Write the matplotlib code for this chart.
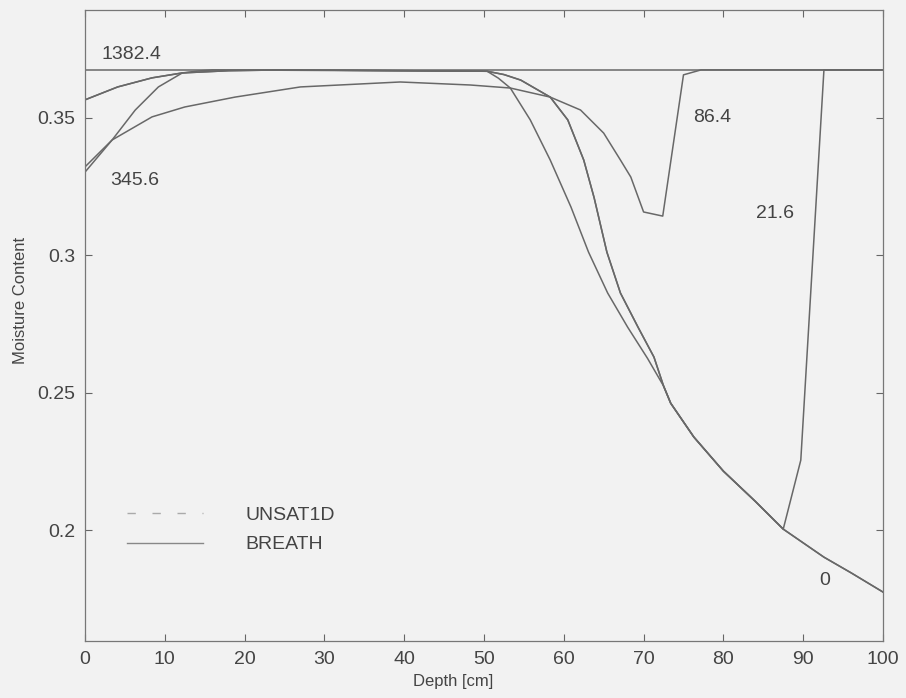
import matplotlib
matplotlib.use("Agg")
import matplotlib.pyplot as plt
from matplotlib.lines import Line2D

# moisture profiles (depth in cm, moisture content)
depth_sat = [0, 100]
theta_sat = [0.3675, 0.3675]

# shared lower tail where all draining curves meet
depth_tail = [73.4, 76.3, 80.0, 84.0, 87.5, 92.6, 96.0, 100.0]
theta_tail = [0.2462, 0.2339, 0.2215, 0.2105, 0.2004, 0.1902, 0.1845, 0.1775]

# t = 0
depth_0 = [0, 4.1, 8.4, 12.2, 18, 25, 50.4, 52.5, 54.6, 58.3, 60.5, 62.5, 63.8,
           65.4, 67.1, 69.3, 71.3, 72.5]
theta_0 = [0.3566, 0.3613, 0.3646, 0.3664, 0.3672, 0.3675, 0.3670, 0.3658, 0.3638,
           0.3576, 0.3493, 0.3347, 0.3210, 0.3012, 0.2863, 0.2739, 0.2630, 0.2525]

# t = 345.6
depth_345 = [0, 3.4, 6.3, 9.2, 12.2, 14.2, 16, 50.4, 51.8, 53.3, 55.8, 58.3, 60.9,
             63.1, 65.5, 68.0, 70.5, 72.5]
theta_345 = [0.3303, 0.3420, 0.3529, 0.3613, 0.3664, 0.3671, 0.3675, 0.3670,
             0.3645, 0.3609, 0.3493, 0.3347, 0.3176, 0.3012, 0.2863, 0.2739,
             0.2625, 0.2525]

# t = 86.4
depth_86 = [0, 3.4, 8.4, 12.5, 18.8, 27, 39.5, 48.3, 53.3, 58.3, 62.1, 65.0,
            67.1, 68.4, 70.0, 72.4, 75.0, 77.2, 100]
theta_86 = [0.3322, 0.3420, 0.3504, 0.3540, 0.3576, 0.3613, 0.3631, 0.3620,
            0.3609, 0.3576, 0.3529, 0.3445, 0.3347, 0.3285, 0.3158, 0.3143,
            0.3657, 0.3675, 0.3675]

# t = 21.6 wetting front (follows t = 0 above it)
depth_front = [87.5, 89.7, 92.6, 100]
theta_front = [0.2004, 0.2255, 0.3675, 0.3675]

labels = ["1382.4", "345.6", "86.4", "21.6", "0"]
label_xy = [(2.1, 0.3730), (3.1, 0.3271), (76.2, 0.3500), (84.1, 0.3154), (92.0, 0.1818)]

xticks = list(range(0, 101, 10))
yticks = [0.2, 0.25, 0.3, 0.35]
ytick_labels = ["0.2", "0.25", "0.3", "0.35"]

bg = "#f2f2f2"
ink = "#444444"
line_c = "#686868"

plt.rcParams["font.family"] = ["Liberation Sans", "DejaVu Sans"]

fig = plt.figure(figsize=(9.06, 6.98), dpi=100, facecolor=bg)
ax = fig.add_axes([0.0938, 0.0817, 0.8808, 0.904])
ax.set_facecolor(bg)

full_0_d = depth_0 + depth_tail
full_0_t = theta_0 + theta_tail
full_345_d = depth_345 + depth_tail
full_345_t = theta_345 + theta_tail
d21 = [d for d in full_0_d if d < depth_front[0]] + depth_front
t21 = [t for d, t in zip(full_0_d, full_0_t) if d < depth_front[0]] + theta_front

kw = dict(color=line_c, lw=1.1)
ax.plot(depth_sat, theta_sat, **kw)
ax.plot(full_0_d, full_0_t, **kw)
ax.plot(full_345_d, full_345_t, **kw)
ax.plot(depth_86, theta_86, **kw)
ax.plot(d21, t21, **kw)

for txt, (x, y) in zip(labels, label_xy):
    ax.text(x, y, txt, fontsize=14, color=ink, ha="left", va="center")

ax.set_xlim(0, 100)
ax.set_ylim(0.1597, 0.3893)
ax.set_xticks(xticks)
ax.set_yticks(yticks)
ax.set_yticklabels(ytick_labels)
ax.tick_params(direction="in", length=5, width=0.8, colors="#666666",
               labelcolor=ink, labelsize=14, top=True, right=True, pad=7)
for s in ax.spines.values():
    s.set_color("#777777")
    s.set_linewidth(0.9)

ax.set_xlabel("Depth [cm]", fontsize=12, color=ink)
ax.set_ylabel("Moisture Content", fontsize=12, color=ink)
ax.xaxis.set_label_coords(0.461, -0.052)
ax.yaxis.set_label_coords(-0.072, 0.54)

handles = [Line2D([], [], color="#aaaaaa", lw=1.0, ls=(0, (6, 12))),
           Line2D([], [], color="#888888", lw=1.0)]
ax.legend(handles, ["UNSAT1D", "BREATH"], loc="center left",
          bbox_to_anchor=(0.0526, 0.176), frameon=False, fontsize=14,
          handlelength=3.9, handletextpad=2.2, labelspacing=0.6,
          borderpad=0, borderaxespad=0, labelcolor=ink)

fig.savefig("out.png", dpi=100, facecolor=bg)
